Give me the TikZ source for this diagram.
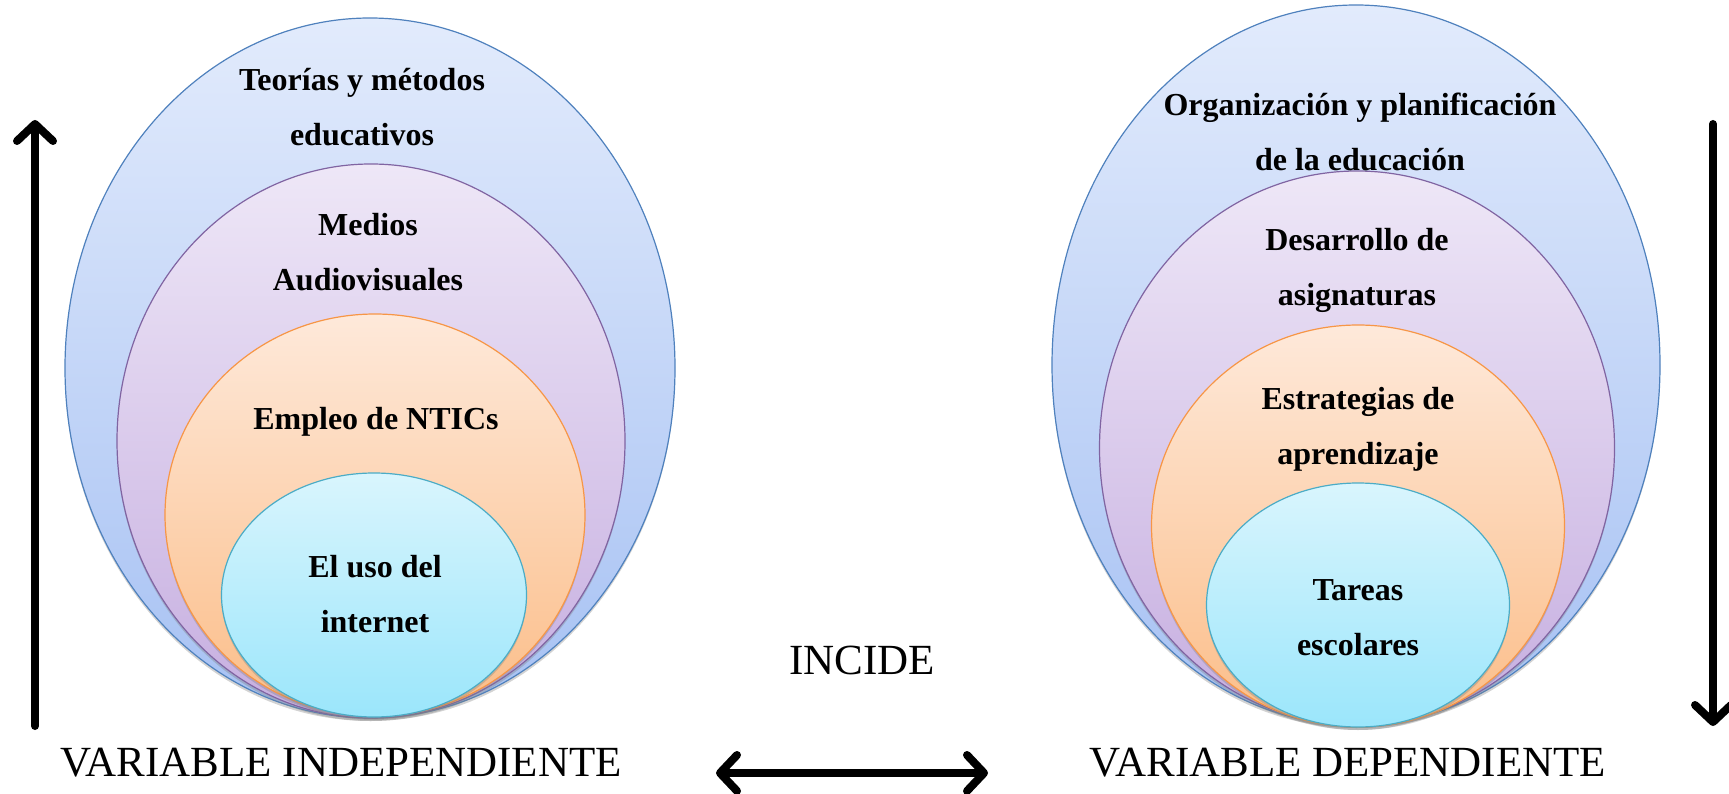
\documentclass[tikz,border=0pt]{standalone}
\usepackage{fontspec}
\setmainfont{Liberation Serif}
\usetikzlibrary{shapes.geometric,arrows.meta,shadows}
\definecolor{bluebd}{HTML}{4F81BD}
\definecolor{bluetop}{HTML}{E2EBFC}
\definecolor{bluebot}{HTML}{A6C1F3}
\definecolor{purbd}{HTML}{8064A2}
\definecolor{purtop}{HTML}{EEE7F7}
\definecolor{purbot}{HTML}{C6AEE0}
\definecolor{orbd}{HTML}{F79646}
\definecolor{ortop}{HTML}{FEE9DA}
\definecolor{orbot}{HTML}{FBBD88}
\definecolor{cybd}{HTML}{4BACC6}
\definecolor{cytop}{HTML}{D9F5FD}
\definecolor{cybot}{HTML}{9BE6FB}
\tikzset{
  ell/.style={ellipse, inner sep=0pt, line width=1.2pt,
    drop shadow={opacity=0.35, shadow xshift=0pt, shadow yshift=-3pt}},
  eblue/.style={ell, draw=bluebd, top color=bluetop, bottom color=bluebot},
  epur/.style={ell, draw=purbd, top color=purtop, bottom color=purbot},
  eor/.style={ell, draw=orbd, top color=ortop, bottom color=orbot},
  ecy/.style={ell, draw=cybd, top color=cytop, bottom color=cybot},
  lab/.style={align=center, font=\bfseries\fontsize{32}{55}\selectfont, inner sep=0pt},
  big/.style={font=\fontsize{43}{46}\selectfont, inner sep=0pt},
  bigarrow/.style={line width=8pt, line cap=round,
    -{Straight Barb[length=17pt, width=36pt, line cap=round, line join=round]}},
  dblarrow/.style={line width=8pt, line cap=round,
    {Straight Barb[length=17pt, width=36pt, line cap=round, line join=round]}-{Straight Barb[length=17pt, width=36pt, line cap=round, line join=round]}}
}
\begin{document}
\begin{tikzpicture}[x=1pt,y=-1pt]
\useasboundingbox (0,0) rectangle (1729,794);
% left group
\node[eblue, minimum width=610pt, minimum height=700pt] (lb) at (370,368) {};
\node[epur, minimum width=508pt, minimum height=554pt] (lp) at (371,441) {};
\node[eor, minimum width=420pt, minimum height=402pt] (lo) at (375,515) {};
\node[ecy, minimum width=305pt, minimum height=244pt] (lc) at (374,595) {};
\node[lab] (t1) at (362,107) {Teorías y métodos\\educativos};
\node[lab] (t2) at (368,252) {Medios\\Audiovisuales};
\node[lab] (t3) at (376,422) {Empleo de NTICs};
\node[lab] (t4) at (375,594) {El uso del\\internet};
% right group
\node[eblue, minimum width=608pt, minimum height=720pt] (rb) at (1356,365) {};
\node[epur, minimum width=515pt, minimum height=554pt] (rp) at (1357,448) {};
\node[eor, minimum width=413pt, minimum height=402pt] (ro) at (1358,526) {};
\node[ecy, minimum width=303pt, minimum height=244pt] (rc) at (1358,605) {};
\node[lab] (s1) at (1360,132) {Organización y planificación\\de la educación};
\node[lab] (s2) at (1357,270) {Desarrollo de\\asignaturas};
\node[lab] (s3) at (1358,429) {Estrategias de\\aprendizaje};
\node[lab] (s4) at (1358,618) {Tareas\\escolares};
% labels
\node[big] (vi) at (341,763) {VARIABLE INDEPENDIENTE};
\node[big] (vd) at (1348,763) {VARIABLE DEPENDIENTE};
\node[big] (inc) at (862,660) {INCIDE};
% arrows
\coordinate (ua) at (35,726);
\coordinate (ub) at (35,120);
\coordinate (da) at (1713,124);
\coordinate (db) at (1713,726);
\coordinate (ha) at (716,773);
\coordinate (hb) at (988,773);
\draw[bigarrow] (ua) -- (ub);
\draw[bigarrow] (da) -- (db);
\draw[dblarrow] (ha) -- (hb);
\end{tikzpicture}
\end{document}
